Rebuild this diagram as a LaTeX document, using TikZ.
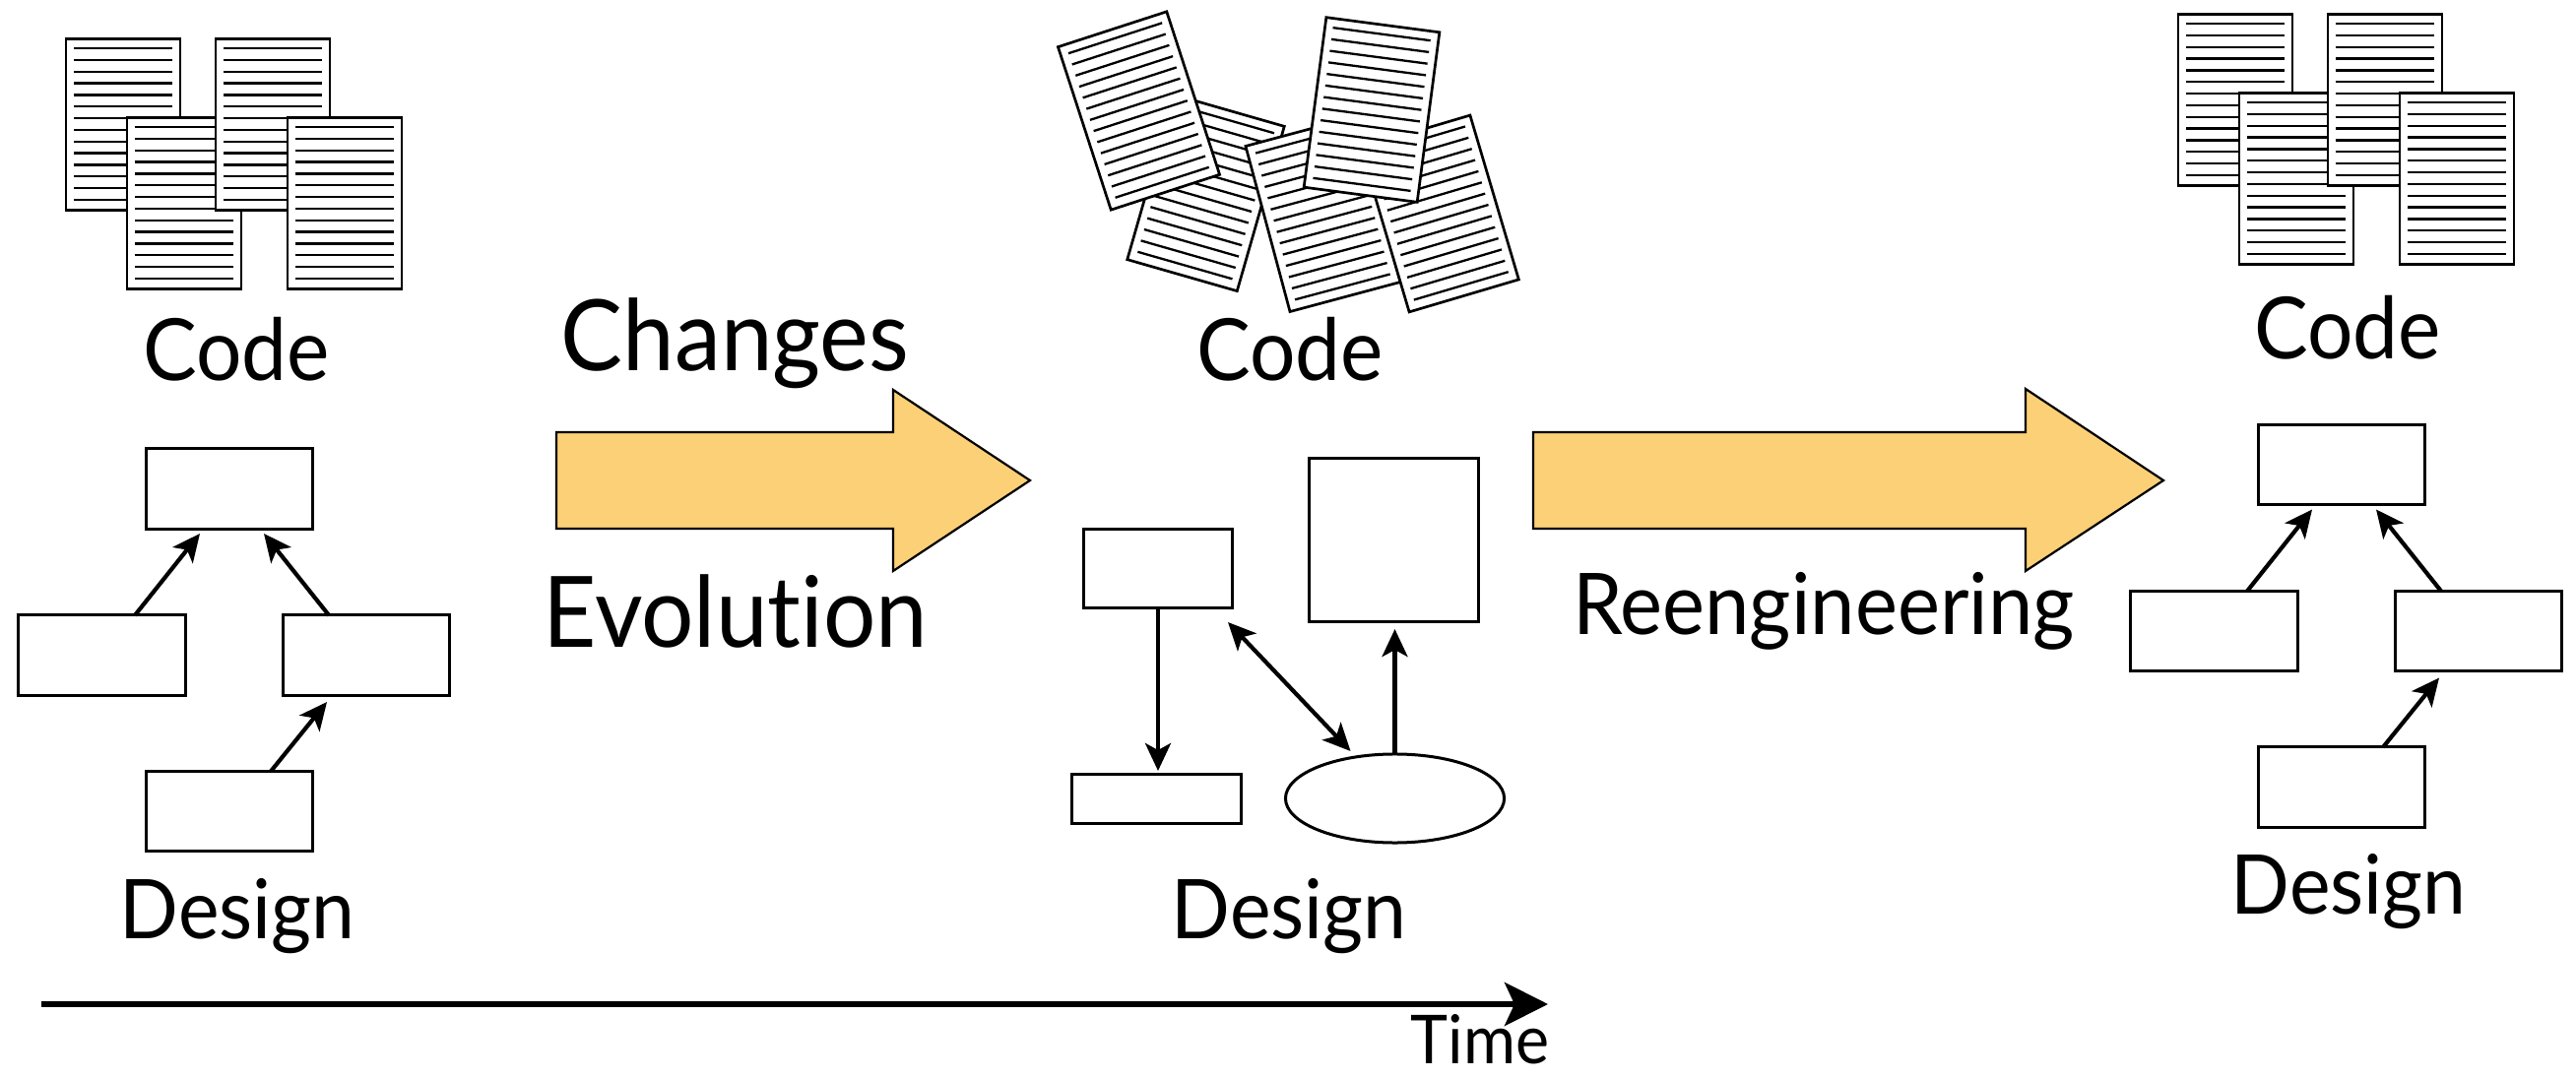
\documentclass[tikz,border=0pt]{standalone}
\usepackage{fontspec}
\setmainfont{Lato}[Ligatures=NoCommon, FakeStretch=0.94]
\usetikzlibrary{arrows.meta,calc,shapes.geometric}

\definecolor{arrowfill}{RGB}{252,208,118}

\tikzset{
  sheetborder/.style={draw=black, fill=white, line width=0.027cm},
  sheetline/.style={line width=0.023cm},
  dbox/.style={draw, fill=white, line width=0.03cm, inner sep=0pt, outer sep=0pt},
  classbox/.style={dbox, minimum width=1.68cm, minimum height=0.81cm},
  link/.style={line width=0.042cm, -{Stealth[length=0.28cm,width=0.26cm,inset=0.07cm]}},
  dlink/.style={line width=0.042cm, {Stealth[length=0.28cm,width=0.26cm,inset=0.07cm]}-{Stealth[length=0.28cm,width=0.26cm,inset=0.07cm]}},
  timeline/.style={line width=0.06cm, -{Stealth[length=0.44cm,width=0.44cm,inset=0.1cm]}},
  bigarrow/.style={draw, fill=arrowfill, line width=0.022cm, line join=miter},
  lbl/.style={anchor=base, inner sep=0pt, outer sep=0pt, font=\fontsize{23.8pt}{28pt}\selectfont},
  biglbl/.style={lbl, font=\fontsize{28.5pt}{34pt}\selectfont},
}

% one page of code: centre (#1,#2), turned by #3 degrees
\newcommand\sheet[3]{%
  \begin{scope}[shift={({#1},{#2})}, rotate=#3]
    \draw[sheetborder] (-58,-87) rectangle (58,87);
    \foreach \k in {0,...,13}
      \draw[sheetline] (-50,{-77.5+\k*11.85}) -- (50,{-77.5+\k*11.85});
  \end{scope}}

% tidy stack of four pages; (#1,#2) is the centre of the back-left page
\newcommand\sheetstack[2]{%
  \sheet{#1}{#2}{0}
  \sheet{#1+62}{#2+80}{0}
  \sheet{#1+152}{#2}{0}
  \sheet{#1+225}{#2+80}{0}}

% clean class hierarchy; #1 name prefix, (#2,#3) centre of the top class
\newcommand\designgraph[3]{%
  \node[classbox] (#1top) at ({#2},{#3}) {};
  \node[classbox, minimum width=1.69cm] (#1left) at ({#2-129.5},{#3+169}) {};
  \node[classbox] (#1right) at ({#2+139},{#3+169}) {};
  \node[classbox] (#1bottom) at ({#2},{#3+327.5}) {};
  \draw[link] ($(#1left.north)+(33.5,0)$) -- ($(#1top.south)+(-30,5)$);
  \draw[link] ($(#1right.north)+(-38,0)$) -- ($(#1top.south)+(35,5)$);
  \draw[link] ($(#1bottom.north)+(42,0)$) -- ($(#1right.south)+(-40,7)$);}

\begin{document}
\begin{tikzpicture}[x=0.01cm, y=-0.01cm]
  \useasboundingbox (0,0) rectangle (2616,1095);

  % ---- initial system ----
  \sheetstack{125}{126.5}
  \node[lbl, font=\fontsize{24.8pt}{29pt}\selectfont] (codeA) at (240,387) {Code};
  \designgraph{a}{233}{496.5}
  \node[lbl] (designA) at (241,953) {Design};

  % ---- evolution arrow ----
  \draw[bigarrow] (565,439) -- (907,439) -- (907,396) -- (1046,488)
        -- (907,580) -- (907,537) -- (565,537) -- cycle;
  \node[biglbl] (changes) at (746.5,377) {Changes};
  \node[biglbl] (evolution) at (747,658) {Evolution};

  % ---- evolved system: scattered pages ----
  \sheet{1224.5}{196}{-16}
  \sheet{1156.5}{112.5}{18}
  \sheet{1343.5}{217.5}{15}
  \sheet{1462}{217}{16.5}
  \sheet{1393}{111.5}{-7.5}
  \node[lbl, font=\fontsize{24.8pt}{29pt}\selectfont] (codeB) at (1310,387) {Code};

  % ---- evolved system: eroded design ----
  \node[dbox, minimum width=1.50cm, minimum height=0.79cm] (ma) at (1176,577.5) {};
  \node[dbox, minimum width=1.71cm, minimum height=1.65cm] (mb) at (1415.5,548.5) {};
  \node[dbox, minimum width=1.71cm, minimum height=0.49cm] (mc) at (1174.5,811.5) {};
  \node[dbox, ellipse, minimum width=2.22cm, minimum height=0.90cm] (me) at (1416.5,811) {};
  \draw[link] (ma.south) -- ($(ma.south |- mc.north)+(0,-4)$);
  \draw[link] (me.north) -- ($(me.north |- mb.south)+(0,8)$);
  \draw[dlink] ($(ma.south east)+(-4,15)$) -- ($(me.north)+(-45,-3)$);
  \node[lbl] (designB) at (1309,953) {Design};

  % ---- reengineering arrow ----
  \draw[bigarrow] (1557,439) -- (2057,439) -- (2057,395) -- (2197,488)
        -- (2057,580) -- (2057,537) -- (1557,537) -- cycle;
  \node[lbl, font=\fontsize{24.6pt}{30pt}\selectfont] (reeng) at (1852,645) {Reengineering};

  % ---- reengineered system ----
  \sheetstack{2270}{101.5}
  \node[lbl, font=\fontsize{24.8pt}{29pt}\selectfont] (codeC) at (2384,365) {Code};
  \designgraph{c}{2378}{472}
  \node[lbl] (designC) at (2385,928) {Design};

  % ---- time axis ----
  \coordinate (t0) at (42,1020);
  \coordinate (t1) at (1572,1020);
  \draw[timeline] (t0) -- (t1);
  \node[lbl, anchor=base east, font=\fontsize{19.5pt}{23pt}\selectfont] (time) at (1573,1080) {Time};
\end{tikzpicture}
\end{document}
